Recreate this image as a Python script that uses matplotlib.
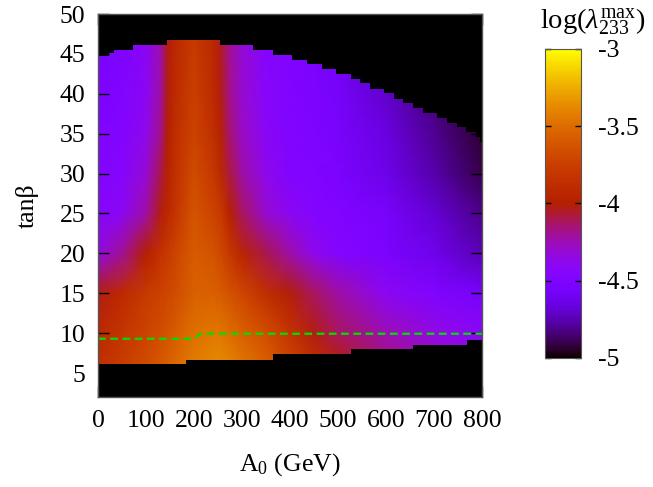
import numpy as np
import matplotlib
matplotlib.use('Agg')
import matplotlib.pyplot as plt
from matplotlib.colors import Normalize

plt.rcParams['font.family'] = ['Liberation Serif', 'DejaVu Serif']
plt.rcParams['mathtext.fontset'] = 'custom'
plt.rcParams['mathtext.rm'] = 'Liberation Serif'
plt.rcParams['mathtext.it'] = 'Liberation Serif:italic'

# mreza vrednosti log(lambda_233^max), odcitano s slike
a0_grid = [0, 50, 100, 130, 145, 160, 200, 240, 255, 275, 300, 350, 400, 450, 500, 600, 700, 800]
tb_grid = [6, 10, 15, 20, 25, 30, 35, 40, 47]
log_lam = [
    [-3.87, -3.77, -3.67, -3.60, -3.56, -3.52, -3.43, -3.38, -3.37, -3.40, -3.46, -3.56, -3.70, -3.86, -4.00, -4.15, -4.27, -4.37],
    [-3.92, -3.82, -3.72, -3.66, -3.62, -3.58, -3.48, -3.45, -3.45, -3.50, -3.56, -3.66, -3.83, -4.02, -4.12, -4.25, -4.35, -4.42],
    [-4.03, -3.90, -3.78, -3.73, -3.70, -3.67, -3.55, -3.56, -3.58, -3.63, -3.70, -3.87, -4.01, -4.12, -4.22, -4.40, -4.50, -4.56],
    [-4.35, -4.20, -4.00, -3.85, -3.78, -3.72, -3.58, -3.63, -3.68, -3.80, -3.95, -4.10, -4.23, -4.38, -4.47, -4.53, -4.62, -4.75],
    [-4.45, -4.40, -4.22, -4.02, -3.92, -3.83, -3.62, -3.72, -3.78, -3.98, -4.12, -4.30, -4.40, -4.47, -4.50, -4.55, -4.68, -4.82],
    [-4.48, -4.45, -4.32, -4.10, -3.97, -3.86, -3.67, -3.80, -3.90, -4.08, -4.22, -4.38, -4.48, -4.50, -4.53, -4.63, -4.76, -4.90],
    [-4.50, -4.48, -4.37, -4.18, -4.00, -3.88, -3.72, -3.86, -3.97, -4.15, -4.28, -4.42, -4.49, -4.51, -4.54, -4.65, -4.80, -4.93],
    [-4.52, -4.50, -4.40, -4.22, -4.02, -3.90, -3.75, -3.90, -4.02, -4.18, -4.30, -4.44, -4.50, -4.52, -4.56, -4.70, -4.84, -4.96],
    [-4.53, -4.51, -4.42, -4.25, -4.03, -3.92, -3.78, -3.92, -4.04, -4.20, -4.32, -4.45, -4.50, -4.53, -4.58, -4.73, -4.87, -4.98],
]

# zgornja meja dovoljenega obmocja
top_a0 = [0, 23, 33, 73, 144, 254, 323, 365, 404, 435, 467, 496, 527, 546, 567, 596, 617, 635, 656, 677, 706, 727, 748, 767, 787, 796, 800]
top_tb = [44.8, 45.1, 45.5, 46.1, 46.7, 46.1, 45.5, 44.9, 44.3, 43.7, 43.1, 42.5, 41.9, 41.3, 40.6, 40.1, 39.4, 38.9, 38.2, 37.6, 37.0, 36.4, 35.8, 35.2, 34.6, 34.0, 34.0]

# spodnja meja
bot_a0 = [0, 183, 365, 527, 656, 769, 800]
bot_tb = [6.1, 6.7, 7.35, 8.0, 8.5, 9.1, 9.1]

# zelena crta
line_a0 = [0, 198, 215, 800]
line_tb = [9.3, 9.3, 9.93, 9.93]

fs = 18.5

fig = plt.figure(figsize=(6.53, 4.87), dpi=100)
ax = fig.add_axes([0.1501, 0.1848, 0.588, 0.7864])
ax.set_facecolor('black')

X, Y = np.meshgrid(a0_grid, tb_grid)
norm = Normalize(vmin=-5, vmax=-3)
mesh = ax.pcolormesh(X, Y, np.array(log_lam), cmap='gnuplot', norm=norm, shading='gouraud')

ax.fill_between(top_a0, top_tb, 50, step='post', color='black', lw=0)
ax.fill_between(bot_a0, 0, bot_tb, step='post', color='black', lw=0)
ax.plot(line_a0, line_tb, color='#00e000', lw=1.6, dashes=(3.5, 2))

ax.set_xlim(0, 800)
ax.set_ylim(2, 50)
ax.set_xticks(range(0, 801, 100))
ax.set_yticks(range(5, 51, 5))
ax.tick_params(direction='in', length=8, width=1, top=True, right=True,
               labelsize=fs, color='black', pad=9)
for s in ax.spines.values():
    s.set_color('#555555')
    s.set_linewidth(1)

ax.set_xlabel('A$_0$ (GeV)', fontsize=fs, labelpad=14)
ax.set_ylabel('tanβ', fontsize=fs, labelpad=15)

cax = fig.add_axes([0.8346, 0.2649, 0.0551, 0.6345])
cb = fig.colorbar(mesh, cax=cax, ticks=[-5, -4.5, -4, -3.5, -3])
cb.ax.set_yticklabels(['-5', '-4.5', '-4', '-3.5', '-3'])
cb.ax.tick_params(direction='in', length=4, width=1, labelsize=fs, left=True, right=True, pad=12)
cb.outline.set_edgecolor('#555555')
fig.text(0.907, 0.955, r'log($\lambda^{\rm max}_{233}$)', fontsize=fs + 2, ha='center', va='center')

fig.savefig('out.png', dpi=100)
